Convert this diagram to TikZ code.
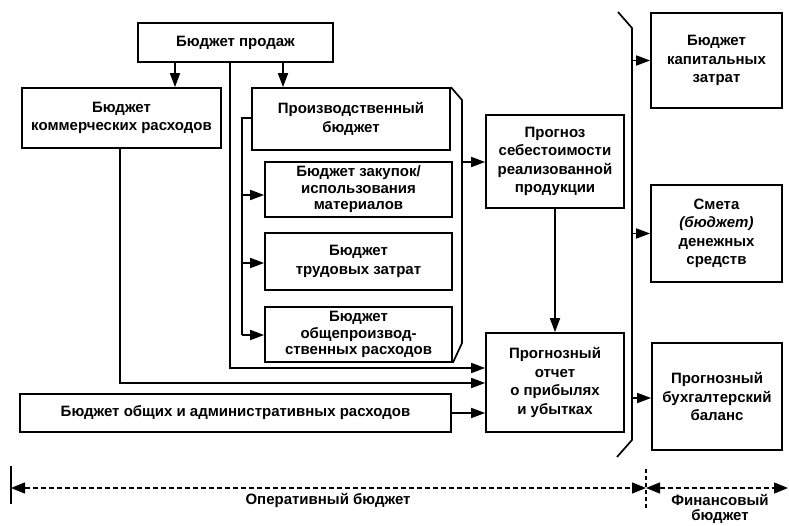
\documentclass[tikz,border=0pt]{standalone}
\usepackage{fontspec}
\setmainfont{Liberation Sans}
\usetikzlibrary{arrows.meta}
\begin{document}
\begin{tikzpicture}[x=1pt,y=-1pt,
  box/.style={draw, line width=1.7pt, inner sep=0pt, align=center,
    font=\bfseries\fontsize{15}{18.5}\selectfont},
  tight/.style={font=\bfseries\fontsize{15}{16.5}\selectfont},
  lbl/.style={inner sep=0pt, align=center, font=\bfseries\fontsize{15}{15}\selectfont},
  ln/.style={line width=1.7pt},
  arr/.style={line width=1.7pt, -{Triangle[length=14pt,width=10pt]}},
  dim/.style={line width=1.4pt, dash pattern=on 5pt off 3pt,
    {Triangle[length=14pt,width=11pt]}-{Triangle[length=14pt,width=11pt]}}]
\useasboundingbox (0,0) rectangle (789,526);
% boxes
\node[box, minimum width=195pt, minimum height=39pt] (sales) at (235.5,42.5) {Бюджет продаж};
\node[box, minimum width=199pt, minimum height=60pt] (comm) at (121.5,118) {Бюджет\\коммерческих расходов};
\node[box, minimum width=198pt, minimum height=62pt] (prod) at (351,119) {Производственный\\бюджет};
\node[box, tight, minimum width=187pt, minimum height=55pt] (mat) at (358.5,189.5) {Бюджет закупок/\\использования\\материалов};
\node[box, minimum width=187pt, minimum height=57pt] (labor) at (358.5,261.5) {Бюджет\\трудовых затрат};
\node[box, tight, minimum width=187pt, minimum height=55pt] (ovh) at (358.5,334.5) {Бюджет\\общепроизвод-\\ственных расходов};
\node[box, minimum width=138pt, minimum height=93pt] (cost) at (555,161.5) {Прогноз\\себестоимости\\реализованной\\продукции};
\node[box, minimum width=138pt, minimum height=99pt] (report) at (555,382.5) {Прогнозный\\отчет\\о прибылях\\и убытках};
\node[box, minimum width=431pt, minimum height=38pt] (admin) at (235.5,413) {Бюджет общих и административных расходов};
\node[box, minimum width=131pt, minimum height=95pt] (capital) at (716.5,60.5) {Бюджет\\капитальных\\затрат};
\node[box, minimum width=131pt, minimum height=97pt] (cash) at (716.5,233.5) {Смета\\{\itshape(бюджет)}\\денежных\\средств};
\node[box, minimum width=130pt, minimum height=107pt] (balance) at (717,396.5) {Прогнозный\\бухгалтерский\\баланс};
\node[lbl] (oper) at (328,500) {Оперативный бюджет};
\node[lbl] (fin) at (720,509) {Финансовый\\бюджет};
% coordinates
\coordinate (xc) at (175,0);
\coordinate (xp) at (283,0);
\coordinate (xs) at (230,368);
\coordinate (xm) at (120,383);
\coordinate (pl) at (242,118);
\coordinate (frTop) at (462,100);
\coordinate (frBot) at (462,343);
\coordinate (frOut) at (462,162);
\coordinate (brTop) at (618,12);
\coordinate (brA) at (632,28);
\coordinate (brB) at (632,440);
\coordinate (brBot) at (617,457);
\coordinate (dimL) at (11,488);
\coordinate (dimM) at (646,488);
\coordinate (dimR) at (788,488);
% connectors from sales
\draw[arr] (xc |- sales.south) -- (xc |- comm.north);
\draw[arr] (xp |- sales.south) -- (xp |- prod.north);
\draw[arr] (xs |- sales.south) -- (xs) -- (xs -| report.west);
\draw[arr] (xm |- comm.south) -- (xm) -- (xm -| report.west);
% production budget internal
\draw[ln] (pl -| prod.west) -- (pl) -- (pl |- 0,335);
\draw[arr] (pl |- 0,195) -- (mat.west |- 0,195);
\draw[arr] (pl |- 0,263) -- (labor.west |- 0,263);
\draw[arr] (pl |- 0,335) -- (ovh.west |- 0,335);
\draw[ln] (prod.north east) -- (frTop) -- (frBot) -- (ovh.south east);
\draw[arr] (frOut) -- (frOut -| cost.west);
\draw[arr] (cost.south) -- (report.north);
\draw[arr] (admin.east) -- (admin.east -| report.west);
% bracket
\draw[ln] (brTop) -- (brA) -- (brB) -- (brBot);
\draw[arr] (brA |- capital.west) -- (capital.west);
\draw[arr] (brA |- cash.west) -- (cash.west);
\draw[arr] (brA |- 0,398) -- (balance.west |- 0,398);
% dimension line
\draw[ln] (11,466) -- (11,504);
\draw[line width=1.4pt, dash pattern=on 4pt off 3pt] (646,469) -- (646,508);
\draw[dim] (dimL) -- (dimM);
\draw[dim] (dimM) -- (dimR);
\end{tikzpicture}
\end{document}
